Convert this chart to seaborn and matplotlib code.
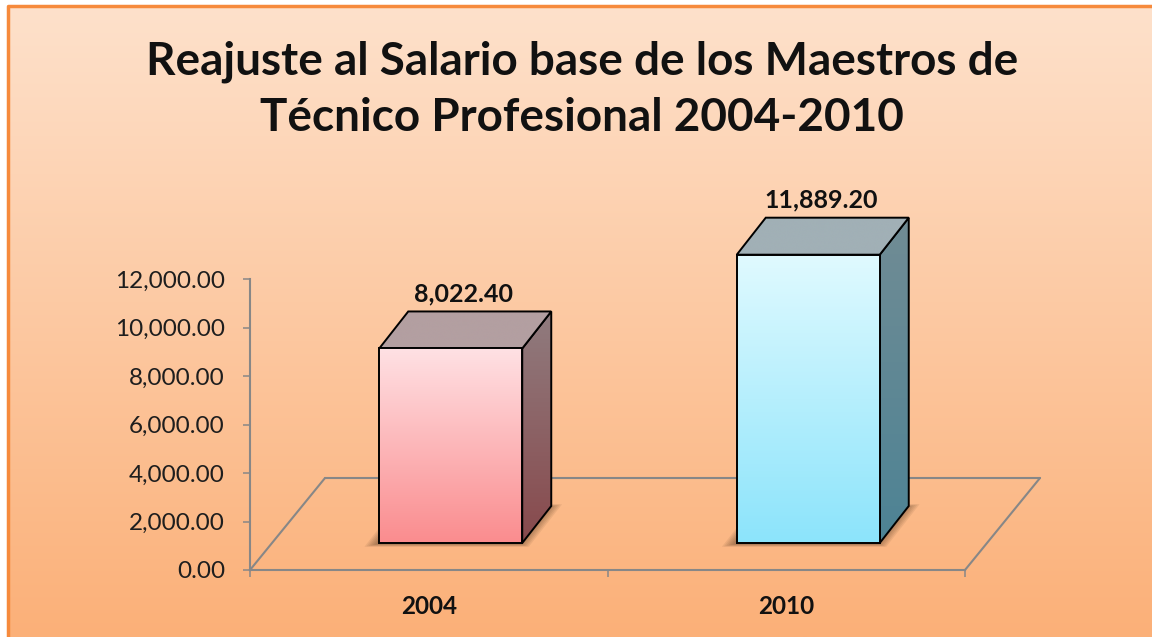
import numpy as np
import pandas as pd
import matplotlib
matplotlib.use("Agg")
import matplotlib.pyplot as plt
import seaborn as sns
from matplotlib.colors import LinearSegmentedColormap
from matplotlib.patches import Polygon
from matplotlib.ticker import FuncFormatter, FixedLocator
from matplotlib.transforms import IdentityTransform, offset_copy

# values
years = ["2004", "2010"]
salaries = [8022.40, 11889.20]
y_ticks = [0, 2000, 4000, 6000, 8000, 10000, 12000]
title = "Reajuste al Salario base de los Maestros de\nTécnico Profesional 2004-2010"

# look of each box: front (top, bottom), side (top, bottom), lid
front_cols = [("#FFE1E4", "#FA8C8E"), ("#E0FAFF", "#8CE4FB")]
side_cols = [("#907C7F", "#88494C"), ("#718C95", "#4D8394")]
top_cols = ["#B39FA1", "#A1B0B6"]

W, H, DPI = 1152, 637, 100
BOX_DEPTH = np.array([29, 37])   # px, oblique depth of a box
FLOOR = np.array([75, 92])       # px, depth of the floor
SHIFT = (22, 27)                 # px, boxes stand halfway into the floor
GREY = "#878787"

sns.set_theme(style="white")
plt.rcParams["font.family"] = ["Lato", "DejaVu Sans"]

fig = plt.figure(figsize=(W / DPI, H / DPI), dpi=DPI)
fig.patch.set_facecolor("white")

# peach gradient background inside an orange frame
bg = fig.add_axes([0, 0, 1, 1], zorder=-10)
grad = np.linspace(0, 1, 256).reshape(-1, 1)
left, top = 8 / W, 1 - 6 / H
bg.imshow(grad, cmap=LinearSegmentedColormap.from_list("bg", ["#FBB078", "#FEE1CB"]),
          aspect="auto", origin="lower", extent=[left, 1, 0, top])
bg.plot([left, left, 1], [0, top, top], color="#F68A3C", lw=2.5)
bg.set_xlim(0, 1)
bg.set_ylim(0, 1)
bg.axis("off")

px_per_unit = (570 - 279) / 12000
y_max = 15500
ax = fig.add_axes([250 / W, 1 - 570 / H, 715 / W, y_max * px_per_unit / H])
ax.patch.set_alpha(0)

df = pd.DataFrame({"year": years, "salary": salaries})
sns.barplot(data=df, x="year", y="salary", ax=ax, width=0.40, color="white",
            errorbar=None)
ax.set_xlim(-0.5, 1.5)
ax.set_ylim(0, y_max)

# axes frame
sns.despine(ax=ax)
ax.spines["left"].set_bounds(0, 12000)
for s in ("left", "bottom"):
    ax.spines[s].set_color(GREY)
    ax.spines[s].set_linewidth(1.5)

# floor: back edge and the two sides
floor_tr = offset_copy(ax.transData, fig=fig, x=FLOOR[0], y=FLOOR[1], units="dots")
ax.plot([-0.5, 1.5], [0, 0], transform=floor_tr, color=GREY, lw=1.5,
        clip_on=False, zorder=1)
for xe in (-0.5, 1.5):
    p0 = ax.transData.transform((xe, 0))
    ax.plot([p0[0], p0[0] + FLOOR[0]], [p0[1], p0[1] + FLOOR[1]],
            transform=IdentityTransform(), color=GREY, lw=1.5, clip_on=False, zorder=1)


def shade(pts, c_top, c_bottom, z, clip=None):
    '''Vertical gradient clipped to a face, outline drawn on top'''
    if clip is None:
        clip = Polygon(pts, closed=True, transform=IdentityTransform(), facecolor="none",
                       edgecolor="black", lw=1.4, zorder=z + 0.5, clip_on=False)
        ax.add_patch(clip)
    (x0, y0), (x1, y1) = ax.transData.inverted().transform([pts.min(0), pts.max(0)])
    cmap = LinearSegmentedColormap.from_list("face", [c_bottom, c_top])
    im = ax.imshow(grad, cmap=cmap, extent=[x0, x1, y0, y1], origin="lower",
                   aspect="auto", zorder=z)
    im.set_clip_path(clip)


front_tr = offset_copy(ax.transData, fig=fig, x=SHIFT[0], y=SHIFT[1], units="dots")
for i, bar in enumerate(ax.patches):
    x0, w, h = bar.get_x(), bar.get_width(), bar.get_height()
    bar.set_transform(front_tr)
    bar.set_facecolor("none")
    bar.set_edgecolor("black")
    bar.set_linewidth(1.4)
    bar.set_zorder(5)
    bar.set_clip_on(False)
    bl, br, tr, tl = front_tr.transform([(x0, 0), (x0 + w, 0), (x0 + w, h), (x0, h)])
    d = BOX_DEPTH

    # soft shadow round the foot of the box
    foot = np.array([bl, br, br + d, bl + d])
    c = foot.mean(0)
    for k in range(6, 0, -1):
        grow = foot + (foot - c) * (0.025 * k) + np.array([-2, -1])
        ax.add_patch(Polygon(grow, closed=True, transform=IdentityTransform(),
                             facecolor="#3b2414", edgecolor="none", alpha=0.08,
                             zorder=1.5, clip_on=False))

    shade(np.array([br, br + d, tr + d, tr]), *side_cols[i], z=2)
    lid = np.array([tl, tr, tr + d, tl + d])
    shade(lid, top_cols[i], top_cols[i], z=3)
    shade(np.array([bl, br, tr, tl]), *front_cols[i], z=4, clip=bar)

    ax.annotate(f"{salaries[i]:,.2f}", xy=(x0 + w / 2, salaries[i]), xycoords=front_tr,
                xytext=(9.5, 39.6), textcoords="offset points", ha="center",
                va="center", fontsize=18, fontweight="bold", color="#111111",
                annotation_clip=False)

ax.set_xlim(-0.5, 1.5)
ax.set_ylim(0, y_max)

# ticks
ax.set_yticks(y_ticks)
ax.yaxis.set_major_formatter(FuncFormatter(lambda v, _: f"{v:,.2f}"))
ax.tick_params(axis="y", left=True, length=5, width=1.1, color=GREY, pad=13,
               labelsize=17.5, labelcolor="#1E1E1E")
ax.set_xticks(range(len(years)), labels=years, fontsize=17.5, fontweight="bold",
              color="#111111")
ax.tick_params(axis="x", which="major", length=0, pad=18)
ax.xaxis.set_minor_locator(FixedLocator([-0.5, 0.5, 1.5]))
ax.tick_params(axis="x", which="minor", bottom=True, length=5, width=1.1,
               color=GREY, direction="out")
ax.set_xlabel("")
ax.set_ylabel("")

fig.text(582 / W, 1 - 90 / H, title, ha="center", va="center", fontsize=33,
         fontweight="bold", color="#111111", linespacing=1.4)

fig.savefig("out.png", dpi=DPI)
